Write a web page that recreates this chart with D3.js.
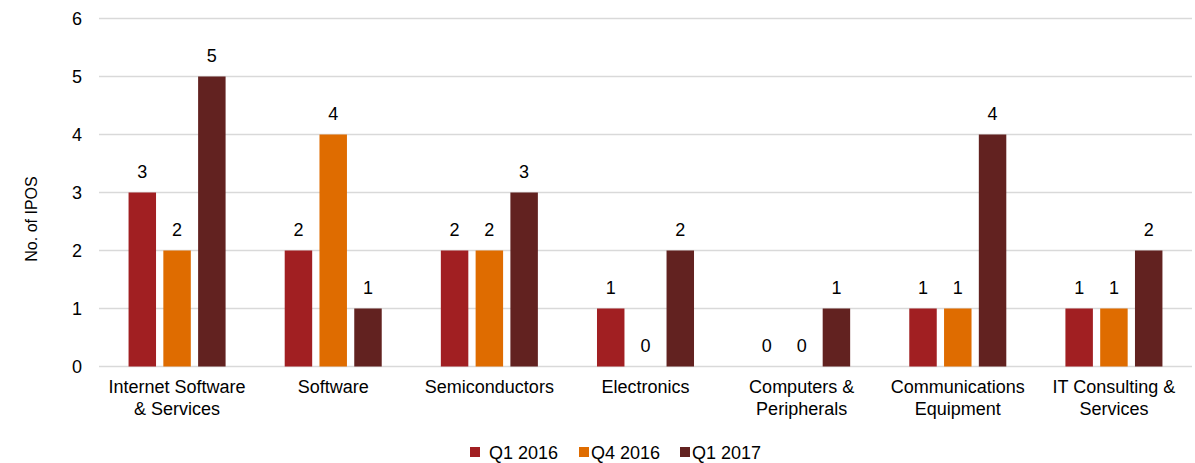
<!DOCTYPE html>
<html>
<head>
<meta charset="utf-8">
<script src="https://cdn.jsdelivr.net/npm/d3@7"></script>
<style>
  body { margin: 0; background: #fff; }
  text { font-family: "Liberation Sans", Arial, sans-serif; fill: #000; }
</style>
</head>
<body>
<div id="container"></div>
<script>
const categories = [
  ["Internet Software", "& Services"],
  ["Software"],
  ["Semiconductors"],
  ["Electronics"],
  ["Computers &", "Peripherals"],
  ["Communications", "Equipment"],
  ["IT Consulting &", "Services"]
];
const seriesNames = ["Q1 2016", "Q4 2016", "Q1 2017"];
const q1_2016 = [3, 2, 2, 1, 0, 1, 1];
const q4_2016 = [2, 4, 2, 0, 0, 1, 1];
const q1_2017 = [5, 1, 3, 2, 1, 4, 2];
const yTicks = [0, 1, 2, 3, 4, 5, 6];
const colors = ["#a11f22", "#df6c00", "#622220"];

const widthSVG = 1195, heightSVG = 463;
const plotLeft = 99, plotRight = 1192, plotTop = 18.5, plotBottom = 366.5;
const fontSize = '18px';

const values = [q1_2016, q4_2016, q1_2017];
const catIdx = d3.range(categories.length);

const svg = d3.select('#container').append('svg')
  .attr('width', widthSVG).attr('height', heightSVG);

const xScale = d3.scaleBand().domain(catIdx).range([plotLeft, plotRight]);
const xInner = d3.scaleBand().domain(d3.range(3)).range([0, xScale.bandwidth()])
  .paddingInner(0.21).paddingOuter(0.85);
const yScale = d3.scaleLinear().domain([0, 6]).range([plotBottom, plotTop]);

// gridlines
svg.append('g')
  .selectAll('line')
  .data(yTicks)
  .enter()
  .append('line')
  .attr('x1', plotLeft).attr('x2', plotRight)
  .attr('y1', d => yScale(d)).attr('y2', d => yScale(d))
  .attr('stroke', '#d9d9d9')
  .attr('stroke-width', 1.5);

// y axis labels
const yAxis = svg.append('g')
  .attr('transform', `translate(${plotLeft},0)`)
  .call(d3.axisLeft(yScale).tickValues(yTicks).tickFormat(d3.format('d')).tickSize(0).tickPadding(17));
yAxis.select('.domain').remove();
yAxis.selectAll('text')
  .style('font-family', '"Liberation Sans", Arial, sans-serif')
  .style('font-size', fontSize)
  .attr('fill', '#000');

svg.append('text')
  .attr('transform', `translate(37,219) rotate(-90)`)
  .attr('text-anchor', 'middle')
  .style('font-size', '16px')
  .text('No. of IPOS');

// bars
const groups = svg.append('g').selectAll('g')
  .data(catIdx)
  .enter()
  .append('g')
  .attr('transform', i => `translate(${xScale(i)},0)`);

values.forEach((series, s) => {
  groups.append('rect')
    .attr('x', xInner(s))
    .attr('y', i => yScale(series[i]))
    .attr('width', xInner.bandwidth())
    .attr('height', i => yScale(0) - yScale(series[i]))
    .attr('fill', colors[s]);
  groups.append('text')
    .attr('x', xInner(s) + xInner.bandwidth() / 2)
    .attr('y', i => yScale(series[i]) - 15)
    .attr('text-anchor', 'middle')
    .style('font-size', fontSize)
    .text(i => series[i]);
});

// category labels
groups.each(function(i) {
  const t = d3.select(this).append('text')
    .attr('x', xScale.bandwidth() / 2)
    .attr('y', plotBottom + 26)
    .attr('text-anchor', 'middle')
    .style('font-size', fontSize);
  categories[i].forEach((line, k) => {
    t.append('tspan')
      .attr('x', xScale.bandwidth() / 2)
      .attr('dy', k === 0 ? 0 : 22)
      .text(line);
  });
});

// legend
const legendX = [470, 579, 680];
const legend = svg.append('g').attr('id', 'legend');
seriesNames.forEach((name, s) => {
  legend.append('rect')
    .attr('x', legendX[s]).attr('y', 447)
    .attr('width', 10).attr('height', 10)
    .attr('fill', colors[s]);
  legend.append('text')
    .attr('x', legendX[s] + (s === 0 ? 19 : 12))
    .attr('y', 459)
    .style('font-size', fontSize)
    .text(name);
});
</script>
</body>
</html>
